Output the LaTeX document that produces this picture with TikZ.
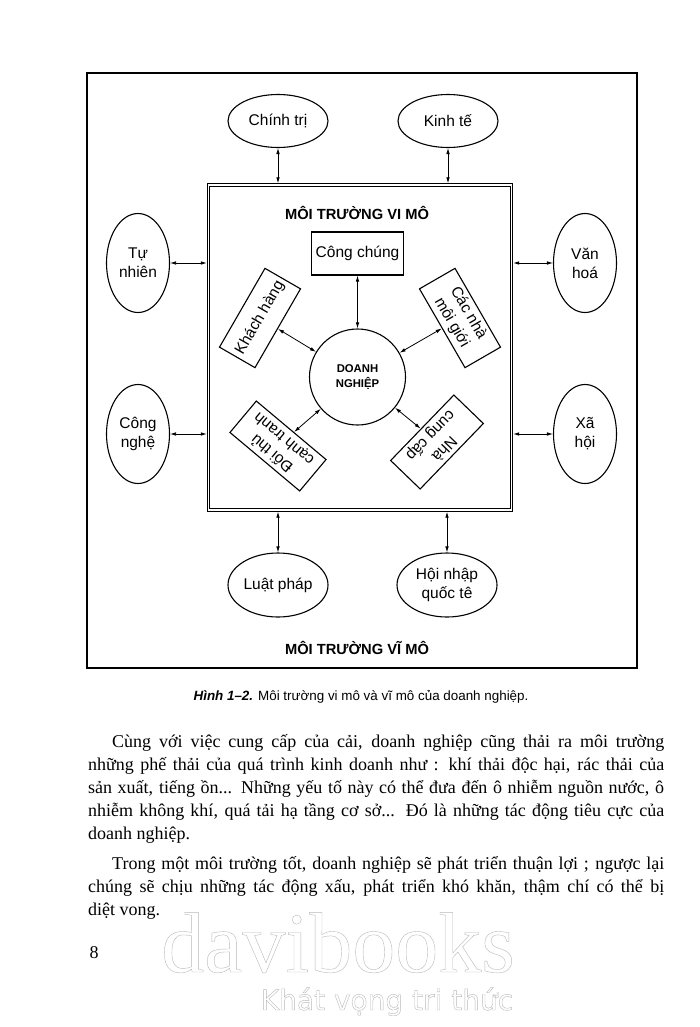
\documentclass[tikz,border=0pt]{standalone}
\usepackage{fontspec}
\setmainfont{Liberation Serif}
\setsansfont{Liberation Sans}
\newfontfamily\mottofont{DejaVu Sans}
\usetikzlibrary{arrows.meta, shapes.geometric}

\newcommand{\outlinetext}[1]{\special{pdf:literal direct 1 Tr 0.4 w}#1\special{pdf:literal direct 0 Tr}}

\begin{document}
\begin{tikzpicture}[
    x=1pt, y=-1pt,
    >={Latex[length=6pt,width=3.6pt]},
    every node/.style={font=\sffamily\fontsize{15.5}{19}\selectfont},
    factor/.style={draw, ellipse, line width=1.1pt, inner sep=0pt, align=center},
    wide/.style={factor, minimum width=100pt, minimum height=53pt},
    tall/.style={factor, minimum width=63pt, minimum height=99pt},
    actor/.style={draw, line width=1.1pt, minimum width=91pt, minimum height=41pt,
        inner sep=2pt, align=center},
    title/.style={font=\sffamily\bfseries\fontsize{14.7}{18}\selectfont},
    para/.style={font=\rmfamily\fontsize{18}{23}\selectfont, text width=576pt,
        align=justify, inner sep=0pt, anchor=base west},
    link/.style={<->, line width=0.8pt}
]
\fill[white] (0,0) rectangle (700,1027);
\useasboundingbox (0,0) rectangle (700,1027);

\node[draw, line width=1.6pt, minimum width=550pt, minimum height=595pt, inner sep=0pt] (macro) at (362,370.5) {};
\node[draw, line width=0.9pt, double, double distance=1.6pt, minimum width=303pt, minimum height=325pt,
    inner sep=0pt, outer sep=1.7pt] (micro) at (360,347.5) {};

\node[title] (microtitle) at (357,213) {MÔI TRƯỜNG VI MÔ};
\node[title] (macrotitle) at (357,648) {MÔI TRƯỜNG VĨ MÔ};

\node[draw, line width=1.1pt, minimum width=92pt, minimum height=43pt] (public) at (357.5,253.5) {Công chúng};
\node[draw, circle, line width=1.1pt, minimum size=96pt, align=center,
    font=\sffamily\bfseries\fontsize{11.3}{15}\selectfont] (firm) at (357.5,377) {DOANH\\NGHIỆP};
\node[actor, rotate=60] (client) at (260,318) {Khách hàng};
\node[actor, rotate=-60] (broker) at (460,318) {Các nhà\\môi giới};
\node[actor, rotate=140] (rival) at (278,446) {Đối thủ\\cạnh tranh};
\node[actor, rotate=-134] (supplier) at (437,442) {Nhà\\cung cấp};

\node[wide] (politics) at (278,121) {Chính trị};
\node[wide] (economy) at (448,121) {Kinh tế};
\node[tall] (nature) at (138,263) {Tự\\nhiên};
\node[tall] (tech) at (138,434) {Công\\nghệ};
\node[tall] (culture) at (585,263) {Văn\\hoá};
\node[tall] (society) at (585,434) {Xã\\hội};
\node[wide, minimum height=64pt] (law) at (278,585) {Luật pháp};
\node[wide, minimum height=64pt] (integration) at (447,585) {Hội nhập\\quốc tê};

\draw[link] (politics) -- (politics |- micro.north);
\draw[link] (economy) -- (economy |- micro.north);
\draw[link] (nature) -- (nature -| micro.west);
\draw[link] (tech) -- (tech -| micro.west);
\draw[link] (culture) -- (culture -| micro.east);
\draw[link] (society) -- (society -| micro.east);
\draw[link] (law) -- (law |- micro.south);
\draw[link] (integration) -- (integration |- micro.south);
\draw[link] (public) -- (firm);
\draw[link] (client) -- (firm);
\draw[link] (broker) -- (firm);
\draw[link] (rival) -- (firm);
\draw[link] (supplier) -- (firm);

\node[font=\sffamily\fontsize{13.4}{16}\selectfont] (caption) at (361,697)
    {\textbf{\textit{Hình 1–2.}} Môi trường vi mô và vĩ mô của doanh nghiệp.};

\node[para] (para1) at (88,747) {\hspace*{24pt}Cùng với việc cung cấp của cải, doanh nghiệp cũng thải ra môi trường\linebreak
    những phế thải của quá trình kinh doanh như : khí thải độc hại, rác thải của\linebreak
    sản xuất, tiếng ồn... Những yếu tố này có thể đưa đến ô nhiễm nguồn nước, ô\linebreak
    nhiễm không khí, quá tải hạ tầng cơ sở... Đó là những tác động tiêu cực của\linebreak
    doanh nghiệp.};
\node[para] (para2) at (88,869) {\hspace*{24pt}Trong một môi trường tốt, doanh nghiệp sẽ phát triển thuận lợi ; ngược lại\linebreak
    chúng sẽ chịu những tác động xấu, phát triển khó khăn, thậm chí có thể bị\linebreak
    diệt vong.};
\node[anchor=base west, font=\rmfamily\fontsize{18}{22}\selectfont] (pagenum) at (86,958) {8};

\node[anchor=base, text=gray!55, font=\rmfamily\fontsize{86}{90}\selectfont] (brand) at (338,972) {\outlinetext{davibooks}};
\node[anchor=base, text=gray!55, font=\mottofont\fontsize{28}{32}\selectfont] (motto) at (387,1010) {\outlinetext{Khát vọng tri thức}};
\end{tikzpicture}
\end{document}
